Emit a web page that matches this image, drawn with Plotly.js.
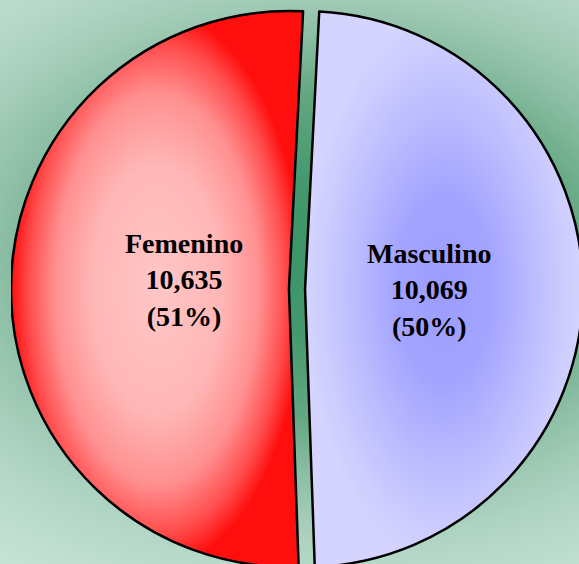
<!DOCTYPE html>
<html>
<head>
<meta charset="utf-8">
<script src="https://cdn.plot.ly/plotly-3.0.1.min.js"></script>
<style>
html, body { margin: 0; padding: 0; width: 579px; height: 564px; overflow: hidden; }
body {
  background: radial-gradient(450px 300px at 330px 255px,
    rgb(58,148,104) 0%, rgb(68,152,110) 25%, rgb(100,168,130) 55%,
    rgb(140,190,165) 73%, rgb(160,202,182) 85%, rgb(178,214,197) 100%,
    rgb(198,227,213) 125%);
}
#chart { position: absolute; left: 11px; top: 3px; width: 572px; height: 572px; }
</style>
</head>
<body>
<div id="chart"></div>
<script>
// ---- data ----
const categories = ['Femenino', 'Masculino'];
const counts = [10635, 10069];
const percentLabels = ['51%', '50%'];

// ---- styles ----
const fallbackColors = ['#ff6a6a', '#b8b8ff'];
const labelPos = [[0.3024, 0.5157], [0.7308, 0.4983]];

const trace = {
  type: 'pie',
  labels: categories,
  values: counts,
  sort: false,
  direction: 'clockwise',
  rotation: 178.0,
  pull: [0.029, 0.029],
  textinfo: 'none',
  hoverinfo: 'label+value',
  marker: { colors: fallbackColors, line: { color: '#000000', width: 2.5 } },
  domain: { x: [0, 1], y: [0, 1] },
  showlegend: false
};

const annotations = categories.map((c, i) => ({
  xref: 'paper', yref: 'paper',
  x: labelPos[i][0], y: labelPos[i][1],
  xanchor: 'center', yanchor: 'middle',
  showarrow: false, align: 'center',
  text: c + '<br>' + counts[i].toLocaleString('en-US') + '<br>(' + percentLabels[i] + ')',
  font: { family: 'Liberation Serif, Times New Roman, serif', size: 28, color: '#000000', weight: 'bold' }
}));

const layout = {
  width: 572, height: 572,
  margin: { l: 0, r: 0, t: 0, b: 0, pad: 0 },
  paper_bgcolor: 'rgba(0,0,0,0)',
  plot_bgcolor: 'rgba(0,0,0,0)',
  showlegend: false,
  annotations: annotations
};

function addGradient(defs, id, stops) {
  const ns = 'http://www.w3.org/2000/svg';
  const g = document.createElementNS(ns, 'radialGradient');
  g.setAttribute('id', id);
  g.setAttribute('gradientUnits', 'objectBoundingBox');
  g.setAttribute('cx', '0.5'); g.setAttribute('cy', '0.5'); g.setAttribute('r', '0.5');
  stops.forEach(([o, c]) => {
    const s = document.createElementNS(ns, 'stop');
    s.setAttribute('offset', o);
    s.setAttribute('stop-color', c);
    g.appendChild(s);
  });
  defs.appendChild(g);
}

Plotly.newPlot('chart', [trace], layout, { displayModeBar: false, staticPlot: true }).then(() => {
  const svg = document.querySelector('#chart .main-svg');
  let defs = svg.querySelector('defs');
  if (!defs) { defs = document.createElementNS('http://www.w3.org/2000/svg', 'defs'); svg.insertBefore(defs, svg.firstChild); }
  addGradient(defs, 'gradFem', [[0, '#ffc6c6'], [0.45, '#ffb6b6'], [0.7, '#ff9090'], [0.88, '#ff4c4c'], [1, '#ff0e0e']]);
  addGradient(defs, 'gradMas', [[0, '#9c9cff'], [0.35, '#a4a4ff'], [0.65, '#bcbcff'], [0.88, '#cdcdff'], [1, '#d4d4ff']]);
  const paths = document.querySelectorAll('#chart .slice path.surface');
  const ids = ['gradFem', 'gradMas'];
  paths.forEach((p, i) => { p.style.fill = 'url(#' + ids[i] + ')'; });
});
</script>
</body>
</html>
